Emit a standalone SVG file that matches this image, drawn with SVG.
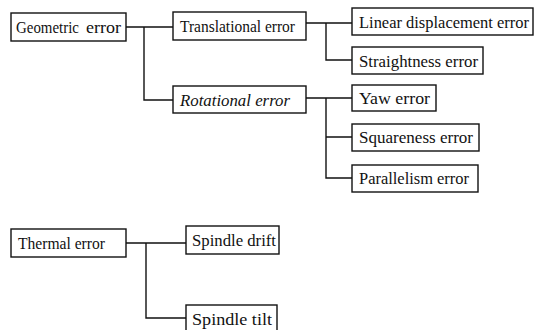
<svg xmlns="http://www.w3.org/2000/svg" width="543" height="330" viewBox="0 0 543 330">
  <style>
    .box { fill: #fff; stroke: #111; stroke-width: 1.4; }
    .lbl { font-family: "Liberation Serif", "Times New Roman", serif; font-size: 17px; fill: #111; }
    .it { font-style: italic; }
    .wire { fill: none; stroke: #111; stroke-width: 1.4; }
  </style>
  <rect width="543" height="330" fill="#fff"/>

  <!-- connectors -->
  <g id="connectors" class="wire">
    <path d="M126,27 H173 M144,27 V100 H173"/>
    <path d="M306,23 H352 M326,23 V60 H352"/>
    <path d="M306,98 H352 M326,98 V178 H352 M326,137 H352"/>
    <path d="M126,243 H186 M146,243 V318 H186"/>
  </g>

  <!-- nodes -->
  <g id="geometric">
    <rect class="box" x="11" y="13" width="115" height="28"/>
    <text class="lbl" y="33"><tspan x="16" textLength="63" lengthAdjust="spacingAndGlyphs">Geometric</tspan> <tspan x="86" textLength="35" lengthAdjust="spacingAndGlyphs">error</tspan></text>
  </g>
  <g id="translational">
    <rect class="box" x="173" y="12" width="133" height="28"/>
    <text class="lbl" x="180" y="32" textLength="115" lengthAdjust="spacingAndGlyphs">Translational error</text>
  </g>
  <g id="rotational">
    <rect class="box" x="173" y="86" width="133" height="27"/>
    <text class="lbl it" x="180" y="106" textLength="110" lengthAdjust="spacingAndGlyphs">Rotational error</text>
  </g>
  <g id="linear">
    <rect class="box" x="352" y="8" width="181" height="27"/>
    <text class="lbl" x="359" y="28" textLength="170" lengthAdjust="spacingAndGlyphs">Linear displacement error</text>
  </g>
  <g id="straightness">
    <rect class="box" x="352" y="47" width="131" height="27"/>
    <text class="lbl" x="359" y="67" textLength="119" lengthAdjust="spacingAndGlyphs">Straightness error</text>
  </g>
  <g id="yaw">
    <rect class="box" x="352" y="85" width="84" height="26"/>
    <text class="lbl" x="359" y="104" textLength="71" lengthAdjust="spacingAndGlyphs">Yaw error</text>
  </g>
  <g id="squareness">
    <rect class="box" x="352" y="124" width="127" height="27"/>
    <text class="lbl" x="359" y="143" textLength="114" lengthAdjust="spacingAndGlyphs">Squareness error</text>
  </g>
  <g id="parallelism">
    <rect class="box" x="352" y="165" width="126" height="27"/>
    <text class="lbl" x="359" y="184" textLength="110" lengthAdjust="spacingAndGlyphs">Parallelism error</text>
  </g>
  <g id="thermal">
    <rect class="box" x="11" y="229" width="115" height="28"/>
    <text class="lbl" x="18" y="249" textLength="87" lengthAdjust="spacingAndGlyphs">Thermal error</text>
  </g>
  <g id="spindle-drift">
    <rect class="box" x="186" y="226" width="93" height="28"/>
    <text class="lbl" x="192" y="246" textLength="84" lengthAdjust="spacingAndGlyphs">Spindle drift</text>
  </g>
  <g id="spindle-tilt">
    <rect class="box" x="186" y="305" width="91" height="27"/>
    <text class="lbl" x="192" y="325" textLength="80" lengthAdjust="spacingAndGlyphs">Spindle tilt</text>
  </g>
</svg>
